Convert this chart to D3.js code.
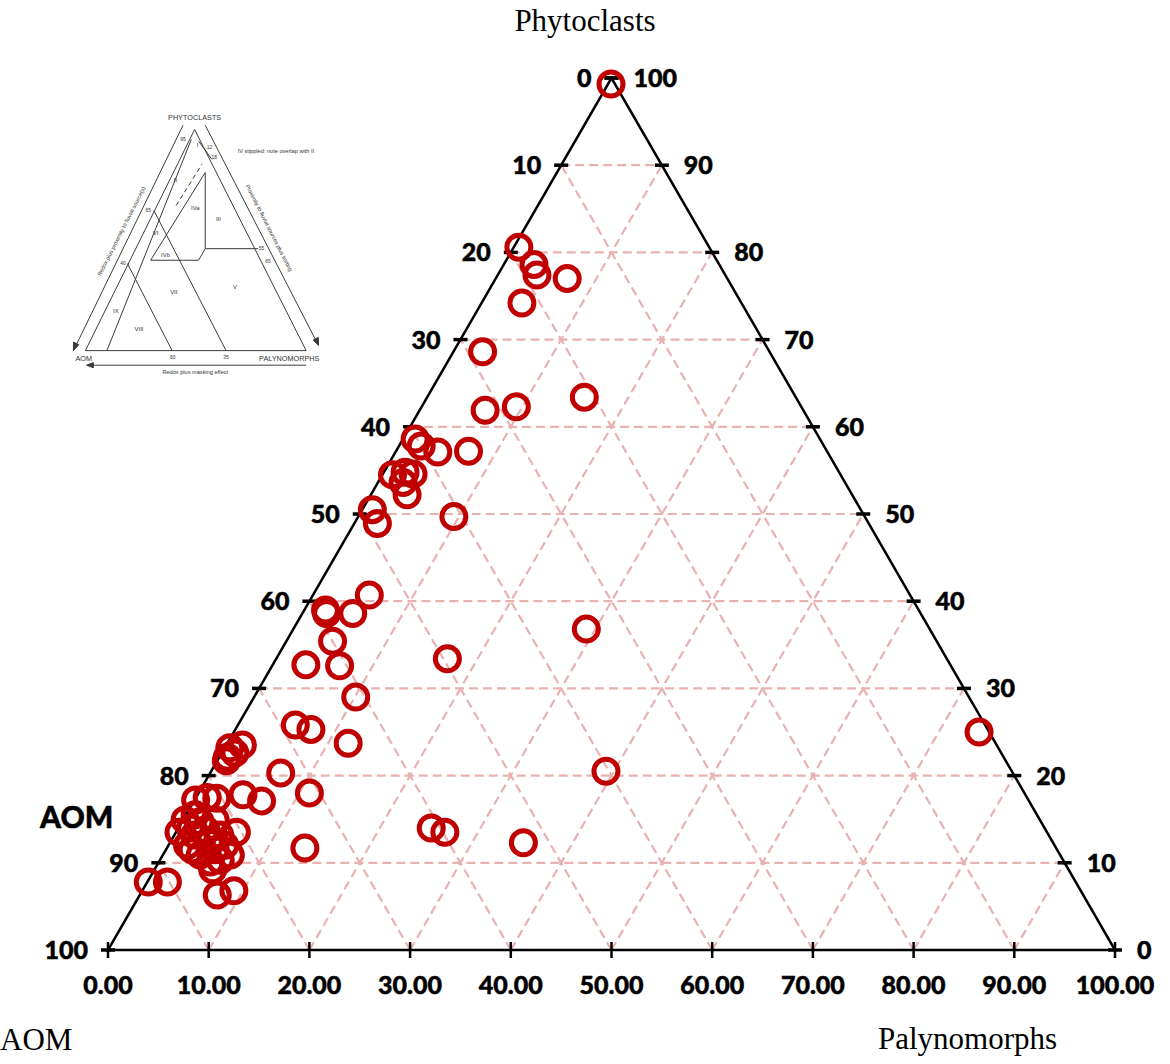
<!DOCTYPE html>
<html>
<head>
<meta charset="utf-8">
<script src="https://cdn.jsdelivr.net/npm/d3@7"></script>
<style>
  body { margin: 0; background: #fff; }
  svg { display: block; }
</style>
</head>
<body>
<svg id="chart" width="1170" height="1064"></svg>
<script>
// samples: phytoclasts / palynomorphs / AOM (%)
let phyto = [99.3, 80.6, 78.6, 77.4, 77.0, 74.2, 68.6, 63.4, 61.9, 62.3,
  58.6, 57.8, 57.1, 57.2, 54.5, 54.8, 54.6, 53.6, 52.2, 50.5,
  48.9, 49.7, 40.7, 39.0, 38.6, 38.6, 35.4, 36.8, 33.4, 32.7,
  32.6, 29.0, 25.8, 25.3, 23.7, 23.5, 23.2, 22.1, 22.6, 21.7,
  20.3, 20.5, 25.0, 18.0, 17.2, 17.5, 17.4, 17.8, 17.1, 13.5,
  11.7, 14.0, 13.5, 12.3, 7.8, 7.8, 6.3, 6.8, 14.9, 14.0,
  13.2, 12.0, 14.7, 13.8, 12.6, 11.5, 10.9, 11.5, 13.2, 14.9,
  10.1, 10.3, 12.0, 9.2, 15.5, 10.9, 13.5];
let paly = [0.3, 0.5, 3.0, 3.9, 7.1, 4.0, 2.9, 15.6, 6.5, 9.4,
  1.2, 2.2, 4.2, 7.2, 1.0, 2.1, 3.0, 2.5, 3.6, 1.0,
  2.3, 9.5, 5.6, 2.1, 2.4, 5.0, 4.6, 29.1, 17.0, 3.3,
  6.7, 10.1, 5.7, 7.5, 12.0, 1.6, 0.5, 0.8, 1.3, 0.9,
  7.0, 39.2, 74.0, 11.0, 0.1, 1.1, 2.1, 4.5, 6.7, 6.0,
  13.7, 25.1, 26.7, 35.1, 0.1, 2.0, 7.7, 9.1, 0.2, 1.2,
  2.0, 1.9, 1.8, 2.8, 3.8, 4.9, 3.7, 2.6, 4.5, 3.2,
  5.1, 6.0, 5.6, 5.8, 0.9, 6.7, 0.3];
let aom = [0.4, 18.9, 18.4, 18.7, 15.9, 21.8, 28.5, 21.0, 31.6, 28.3,
  40.2, 40.0, 38.7, 35.6, 44.5, 43.1, 42.4, 43.9, 44.2, 48.5,
  48.8, 40.8, 53.7, 58.9, 59.0, 56.4, 60.0, 34.1, 49.6, 64.0,
  60.7, 60.9, 68.5, 67.2, 64.3, 74.9, 76.3, 77.1, 76.1, 77.4,
  72.7, 40.3, 1.0, 71.0, 82.7, 81.4, 80.5, 77.7, 76.2, 80.5,
  74.6, 60.9, 59.8, 52.6, 92.1, 90.2, 86.0, 84.1, 84.9, 84.8,
  84.8, 86.1, 83.5, 83.4, 83.6, 83.6, 85.4, 85.9, 82.3, 81.9,
  84.8, 83.7, 82.4, 85.0, 83.6, 82.4, 86.2];

let gridSteps = [10, 20, 30, 40, 50, 60, 70, 80, 90];
let bottomTicks = [0, 10, 20, 30, 40, 50, 60, 70, 80, 90, 100];
let bottomLabels = ["0.00", "10.00", "20.00", "30.00", "40.00", "50.00",
  "60.00", "70.00", "80.00", "90.00", "100.00"];
let sideTicks = [0, 10, 20, 30, 40, 50, 60, 70, 80, 90, 100];   // phytoclast level
let leftLabels = ["100", "90", "80", "70", "60", "50", "40", "30", "20", "10", "0"];
let rightLabels = ["0", "10", "20", "30", "40", "50", "60", "70", "80", "90", "100"];

let svg = d3.select("#chart");

let x = d3.scaleLinear().domain([0, 100]).range([108, 1115]);
let y = d3.scaleLinear().domain([0, 100]).range([950, 78]);

// ternary -> screen
function pt(ph, pa) {
  return [x(pa + ph / 2), y(ph)];
}

let red = "#c00000",
    gridColor = "#e8b2b0",
    boldFont = "Lato, 'Open Sans', sans-serif",
    serif = "'Liberation Serif', 'Times New Roman', serif";

// ---------- inset (scanned Tyson diagram) ----------
let inset = svg.append("g")
  .attr("transform", "translate(0,60) scale(0.331)")
  .attr("stroke", "#3a3a3a")
  .attr("fill", "none")
  .attr("stroke-width", 3);

let insetLines = [
  [[258, 878], [925, 878]],
  [[258, 878], [588, 210]],
  [[588, 210], [925, 878]],
  [[323, 878], [578, 240]],
  [[385, 615], [520, 878]],
  [[465, 455], [683, 878]],
  [[455, 605], [620, 340]],
  [[620, 340], [620, 570]],
  [[620, 570], [780, 570]],
  [[455, 605], [600, 605]],
  [[600, 605], [620, 570]],
  [[600, 245], [640, 300]],
  [[222, 878], [553, 197]],
  [[620, 197], [962, 862]],
  [[262, 922], [925, 922]]
];
inset.selectAll("line.il").data(insetLines).join("line")
  .attr("class", "il")
  .attr("x1", d => d[0][0]).attr("y1", d => d[0][1])
  .attr("x2", d => d[1][0]).attr("y2", d => d[1][1]);

inset.append("line")
  .attr("x1", 532).attr("y1", 440).attr("x2", 610).attr("y2", 315)
  .attr("stroke-dasharray", "14,10");

// arrow heads
let heads = [
  [[262, 922], [282, 914], [282, 930]],
  [[222, 878], [222, 852], [238, 860]],
  [[962, 862], [946, 846], [962, 838]]
];
inset.selectAll("path.hd").data(heads).join("path")
  .attr("class", "hd")
  .attr("d", d => "M" + d.join("L") + "Z")
  .attr("fill", "#3a3a3a");

let insetText = [
  ["PHYTOCLASTS", 588, 180, 22, "middle"],
  ["IV  stippled: note overlap with II", 718, 282, 17, "start"],
  ["AOM", 228, 910, 22, "start"],
  ["PALYNOMORPHS", 965, 910, 22, "end"],
  ["Redox plus masking effect", 590, 950, 17, "middle"],
  ["95", 553, 245, 15, "middle"], ["I", 597, 262, 18, "middle"],
  ["12", 633, 270, 15, "middle"], ["18", 647, 300, 15, "middle"],
  ["II", 530, 368, 18, "middle"], ["IVa", 590, 452, 18, "middle"],
  ["III", 660, 485, 18, "middle"], ["65", 448, 458, 15, "middle"],
  ["VI", 470, 528, 18, "middle"], ["IVb", 500, 594, 18, "middle"],
  ["55", 790, 574, 15, "middle"], ["65", 810, 614, 15, "middle"],
  ["40", 372, 618, 15, "middle"], ["VII", 525, 708, 18, "middle"],
  ["V", 710, 692, 18, "middle"], ["IX", 350, 764, 18, "middle"],
  ["VIII", 420, 818, 18, "middle"], ["60", 522, 902, 15, "middle"],
  ["35", 683, 902, 15, "middle"]
];
inset.selectAll("text.it").data(insetText).join("text")
  .attr("class", "it")
  .attr("x", d => d[1]).attr("y", d => d[2])
  .attr("font-size", d => d[3])
  .attr("text-anchor", d => d[4])
  .attr("font-family", "'Liberation Sans', Arial, sans-serif")
  .attr("fill", "#333").attr("stroke", "none")
  .text(d => d[0]);

inset.append("text")
  .attr("transform", "translate(372,520) rotate(-63)")
  .attr("text-anchor", "middle").attr("font-size", 17)
  .attr("font-family", "'Liberation Sans', Arial, sans-serif")
  .attr("fill", "#333").attr("stroke", "none")
  .text("Redox plus proximity to fluvial source(s)");
inset.append("text")
  .attr("transform", "translate(808,510) rotate(63)")
  .attr("text-anchor", "middle").attr("font-size", 17)
  .attr("font-family", "'Liberation Sans', Arial, sans-serif")
  .attr("fill", "#333").attr("stroke", "none")
  .text("Proximity to fluvial sources plus sorting");

// ---------- grid ----------
let grid = svg.append("g")
  .attr("stroke", gridColor)
  .attr("stroke-width", 2.2)
  .attr("stroke-dasharray", "9,5")
  .attr("fill", "none");

// constant phytoclast (horizontal)
grid.selectAll("line.h").data(gridSteps).join("line")
  .attr("class", "h")
  .attr("x1", d => pt(d, 0)[0]).attr("y1", d => pt(d, 0)[1])
  .attr("x2", d => pt(d, 100 - d)[0]).attr("y2", d => pt(d, 100 - d)[1]);
// constant palynomorphs (parallel to left side)
grid.selectAll("line.p").data(gridSteps).join("line")
  .attr("class", "p")
  .attr("x1", d => pt(0, d)[0]).attr("y1", d => pt(0, d)[1])
  .attr("x2", d => pt(100 - d, d)[0]).attr("y2", d => pt(100 - d, d)[1]);
// constant AOM (parallel to right side)
grid.selectAll("line.a").data(gridSteps).join("line")
  .attr("class", "a")
  .attr("x1", d => pt(0, 100 - d)[0]).attr("y1", d => pt(0, 100 - d)[1])
  .attr("x2", d => pt(100 - d, 0)[0]).attr("y2", d => pt(100 - d, 0)[1]);

// ---------- triangle ----------
let corners = [pt(0, 0), pt(0, 100), pt(100, 0)];
svg.append("path")
  .attr("d", "M" + corners.join("L") + "Z")
  .attr("fill", "none")
  .attr("stroke", "#000")
  .attr("stroke-width", 2.5)
  .attr("stroke-linejoin", "miter");

// ticks
let ticks = svg.append("g").attr("stroke", "#000");
ticks.selectAll("line.bt").data(bottomTicks).join("line")
  .attr("class", "bt")
  .attr("x1", d => x(d)).attr("x2", d => x(d))
  .attr("y1", y(0) - 8).attr("y2", y(0) + 8)
  .attr("stroke-width", 2.5);
ticks.selectAll("line.lt").data(sideTicks).join("line")
  .attr("class", "lt")
  .attr("x1", d => pt(d, 0)[0] - 7).attr("x2", d => pt(d, 0)[0] + 7)
  .attr("y1", d => y(d)).attr("y2", d => y(d))
  .attr("stroke-width", 3.5);
ticks.selectAll("line.rt").data(sideTicks).join("line")
  .attr("class", "rt")
  .attr("x1", d => pt(d, 100 - d)[0] - 7).attr("x2", d => pt(d, 100 - d)[0] + 7)
  .attr("y1", d => y(d)).attr("y2", d => y(d))
  .attr("stroke-width", 3.5);

// labels
let lab = svg.append("g")
  .attr("font-family", boldFont)
  .attr("font-weight", 900)
  .attr("font-size", 25)
  .attr("fill", "#000")
  .attr("stroke", "#000")
  .attr("stroke-width", 0.5);

lab.selectAll("text.bl").data(bottomTicks).join("text")
  .attr("class", "bl")
  .attr("x", d => x(d)).attr("y", y(0) + 44)
  .attr("text-anchor", "middle")
  .text((d, i) => bottomLabels[i]);
lab.selectAll("text.ll").data(sideTicks).join("text")
  .attr("class", "ll")
  .attr("x", d => pt(d, 0)[0] - 20).attr("y", d => y(d) + 9)
  .attr("text-anchor", "end")
  .text((d, i) => leftLabels[i]);
lab.selectAll("text.rl").data(sideTicks).join("text")
  .attr("class", "rl")
  .attr("x", d => pt(d, 100 - d)[0] + 22).attr("y", d => y(d) + 9)
  .attr("text-anchor", "start")
  .text((d, i) => rightLabels[i]);

lab.append("text")
  .attr("x", 40).attr("y", 828)
  .attr("font-size", 30)
  .text("AOM");

// axis titles
let titles = svg.append("g")
  .attr("font-family", serif)
  .attr("font-size", 31)
  .attr("fill", "#000");
titles.append("text").attr("x", 585).attr("y", 31)
  .attr("text-anchor", "middle").text("Phytoclasts");
titles.append("text").attr("x", 0).attr("y", 1050).text("AOM");
titles.append("text").attr("x", 878).attr("y", 1049).text("Palynomorphs");

// ---------- samples ----------
let samples = phyto.map((d, i) => ({ phyto: d, paly: paly[i], aom: aom[i] }));
svg.append("g").selectAll("circle").data(samples).join("circle")
  .attr("cx", d => pt(d.phyto, d.paly)[0])
  .attr("cy", d => pt(d.phyto, d.paly)[1])
  .attr("r", 12)
  .attr("fill", "none")
  .attr("stroke", red)
  .attr("stroke-width", 5);
</script>
</body>
</html>
